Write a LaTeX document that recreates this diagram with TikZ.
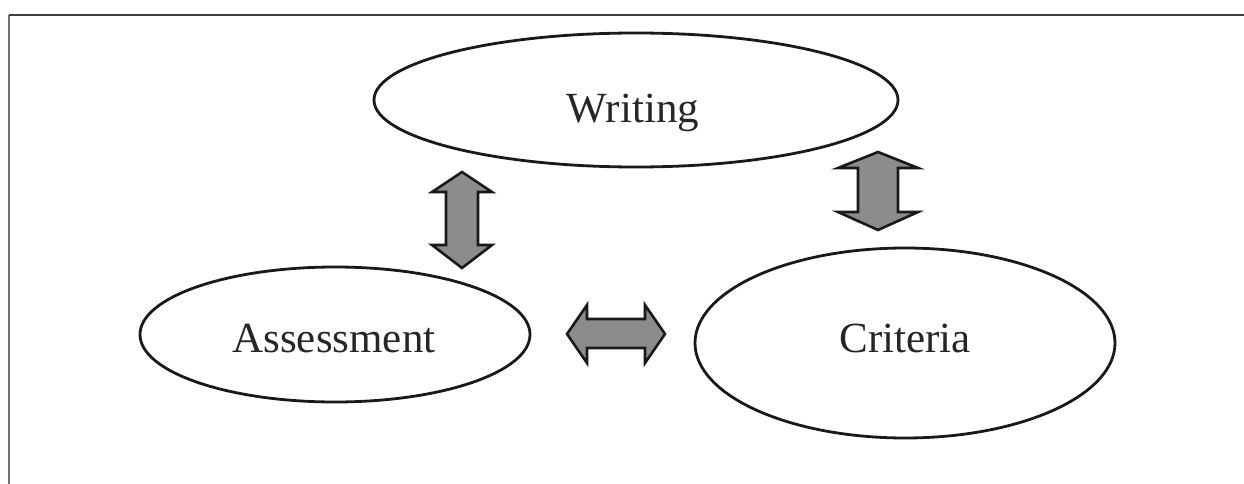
\documentclass[tikz,border=0pt]{standalone}
\usepackage{fontspec}
\setmainfont{Liberation Serif}
\usetikzlibrary{shapes.geometric}
\begin{document}
\begin{tikzpicture}[x=1pt,y=-1pt,
  bubble/.style={ellipse, draw=black!90, line width=2.8pt, fill=white, inner sep=0pt},
  label/.style={anchor=base, inner sep=0pt, text=black!85, font=\fontsize{43}{50}\selectfont},
  blockarrow/.style={draw=black!90, line width=2.6pt, fill=black!45, line join=miter}]
\useasboundingbox (0,0) rectangle (1244,484);
\fill[white] (0,0) rectangle (1244,484);
% frame
\draw[black!55, line width=1.3pt] (9,484) -- (9,15);
\draw[black!75, line width=1.6pt] (9,15) -- (1244,15);
% ellipses
\node[bubble, minimum width=524pt, minimum height=134pt] (writing) at (636,100) {};
\node[bubble, minimum width=390pt, minimum height=135pt] (assessment) at (335,334.5) {};
\node[bubble, minimum width=420pt, minimum height=190pt] (criteria) at (905,343) {};
% texts
\node[label] (writingtxt) at (633,122) {Writing};
\node[label] (assessmenttxt) at (334,352) {Assessment};
\node[label] (criteriatxt) at (905,352) {Criteria};
% block arrows
\draw[blockarrow] (462,172) -- (492,192) -- (478,192) -- (478,245) -- (492,245) -- (462,268)
  -- (432,245) -- (446,245) -- (446,192) -- (432,192) -- cycle;
\draw[blockarrow] (878,152) -- (918,168) -- (898,168) -- (898,212) -- (918,212) -- (878,230)
  -- (838,212) -- (858,212) -- (858,168) -- (838,168) -- cycle;
\draw[blockarrow] (567,334) -- (587,305) -- (587,319) -- (645,319) -- (645,305) -- (665,334)
  -- (645,363) -- (645,348) -- (587,348) -- (587,363) -- cycle;
\end{tikzpicture}
\end{document}
